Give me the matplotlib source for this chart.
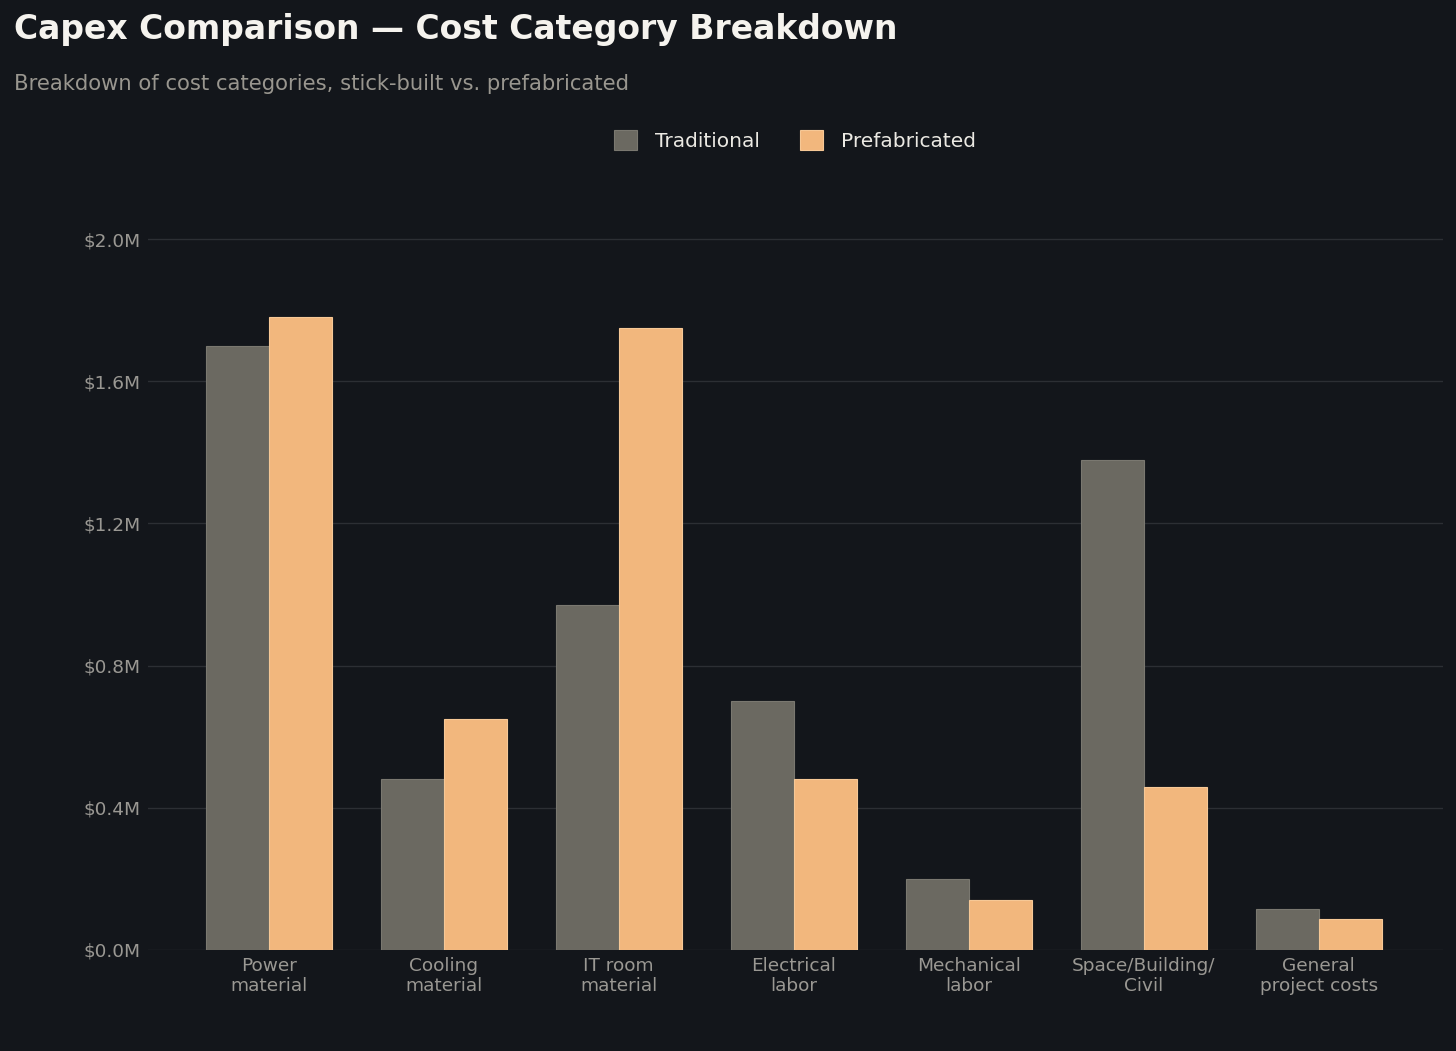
import matplotlib.pyplot as plt
import numpy as np
from matplotlib.ticker import FuncFormatter

categories = ["Power\nmaterial", "Cooling\nmaterial", "IT room\nmaterial", "Electrical\nlabor",
              "Mechanical\nlabor", "Space/Building/\nCivil", "General\nproject costs"]
traditional = [1.70, 0.48, 0.97, 0.70, 0.20, 1.38, 0.115]
prefabricated = [1.78, 0.65, 1.75, 0.48, 0.14, 0.46, 0.087]
yticks = [0.0, 0.4, 0.8, 1.2, 1.6, 2.0]

bg = "#13161b"
c_trad = "#6b6961"
c_pre = "#f2b77d"

fig = plt.figure(figsize=(14.56, 10.51), dpi=100, facecolor=bg)
ax = fig.add_axes([0.1016, 0.0961, 0.8894, 0.744], facecolor=bg)

x = np.arange(len(categories))
w = 0.36
ax.bar(x - w / 2, traditional, w, color=c_trad, edgecolor="#7a7870", linewidth=0.8,
       label="Traditional", zorder=3)
ax.bar(x + w / 2, prefabricated, w, color=c_pre, edgecolor="#f6c896", linewidth=0.8,
       label="Prefabricated", zorder=3)

ax.set_xlim(-0.69, 6.71)
ax.set_ylim(0, 2.2)
ax.set_yticks(yticks)
ax.yaxis.set_major_formatter(FuncFormatter(lambda v, p: f"${v:.1f}M"))
ax.set_xticks(x)
ax.set_xticklabels(categories, linespacing=1.12)
ax.tick_params(axis="both", length=0, colors="#9a9893", labelsize=13.3)
ax.tick_params(axis="y", pad=5)
ax.tick_params(axis="x", pad=5)
ax.grid(axis="y", color="#2c2f34", linewidth=1, zorder=0)
for s in ax.spines.values():
    s.set_visible(False)

fig.text(0.0096, 0.972, "Capex Comparison \u2014 Cost Category Breakdown", fontsize=23.8,
         fontweight="bold", color="#f5f3ee", va="center")
fig.text(0.0096, 0.920, "Breakdown of cost categories, stick-built vs. prefabricated",
         fontsize=15.2, color="#99968f", va="center")

leg = fig.legend(loc="center", bbox_to_anchor=(0.546, 0.866), ncol=2, frameon=False,
                 fontsize=14.5, handlelength=1.15, handleheight=1.15, columnspacing=2.0,
                 handletextpad=0.9)
for t in leg.get_texts():
    t.set_color("#ebe9e3")

fig.savefig("out.png", dpi=100, facecolor=bg)
